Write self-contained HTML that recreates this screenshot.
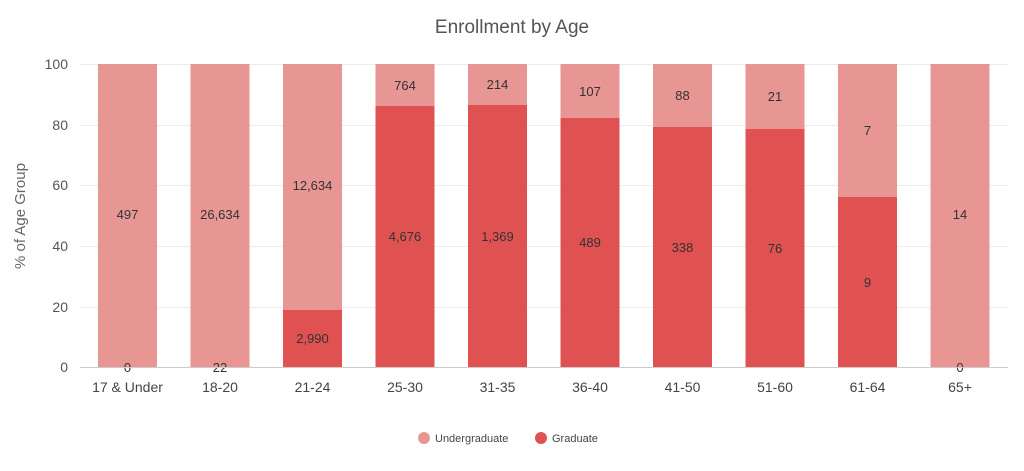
<!DOCTYPE html>
<html><head><meta charset="utf-8"><style>
body{margin:0;background:#fff}
text{font-family:"Liberation Sans",sans-serif}
</style></head><body>
<svg width="1024" height="466" xmlns="http://www.w3.org/2000/svg">
<rect width="1024" height="466" fill="#fff"/>
<text x="512" y="33" text-anchor="middle" font-size="19" fill="#555">Enrollment by Age</text>
<g stroke="#ececec" stroke-width="1">
<line x1="80" x2="1008" y1="64.5" y2="64.5"/>
<line x1="80" x2="1008" y1="125.5" y2="125.5"/>
<line x1="80" x2="1008" y1="185.5" y2="185.5"/>
<line x1="80" x2="1008" y1="246.5" y2="246.5"/>
<line x1="80" x2="1008" y1="307.5" y2="307.5"/>
</g>
<g font-size="14" fill="#555" text-anchor="end">
<text x="68" y="69">100</text><text x="68" y="130">80</text><text x="68" y="190">60</text>
<text x="68" y="251">40</text><text x="68" y="312">20</text><text x="68" y="372">0</text>
</g>
<text transform="translate(25,216) rotate(-90)" text-anchor="middle" font-size="15" fill="#666">% of Age Group</text>
<g id="bars"></g>
<g font-size="13" fill="#333" text-anchor="middle">
<!-- bars -->
<rect x="98" y="64" width="59" height="303" fill="#e79694"/>
<rect x="190.5" y="64" width="59" height="303" fill="#e79694"/>
<rect x="283" y="64" width="59" height="246" fill="#e79694"/><rect x="283" y="310" width="59" height="57" fill="#e05252"/>
<rect x="375.5" y="64" width="59" height="42" fill="#e79694"/><rect x="375.5" y="106" width="59" height="261" fill="#e05252"/>
<rect x="468" y="64" width="59" height="41" fill="#e79694"/><rect x="468" y="105" width="59" height="262" fill="#e05252"/>
<rect x="560.5" y="64" width="59" height="54" fill="#e79694"/><rect x="560.5" y="118" width="59" height="249" fill="#e05252"/>
<rect x="653" y="64" width="59" height="63" fill="#e79694"/><rect x="653" y="127" width="59" height="240" fill="#e05252"/>
<rect x="745.5" y="64" width="59" height="65" fill="#e79694"/><rect x="745.5" y="129" width="59" height="238" fill="#e05252"/>
<rect x="838" y="64" width="59" height="133" fill="#e79694"/><rect x="838" y="197" width="59" height="170" fill="#e05252"/>
<rect x="930.5" y="64" width="59" height="303" fill="#e79694"/>
<!-- labels -->
<text x="127.5" y="219">497</text><text x="127.5" y="372">0</text>
<text x="220" y="219">26,634</text><text x="220" y="372">22</text>
<text x="312.5" y="190">12,634</text><text x="312.5" y="343">2,990</text>
<text x="405" y="90">764</text><text x="405" y="241">4,676</text>
<text x="497.5" y="89">214</text><text x="497.5" y="241">1,369</text>
<text x="590" y="96">107</text><text x="590" y="247">489</text>
<text x="682.5" y="100">88</text><text x="682.5" y="252">338</text>
<text x="775" y="101">21</text><text x="775" y="253">76</text>
<text x="867.5" y="135">7</text><text x="867.5" y="287">9</text>
<text x="960" y="219">14</text><text x="960" y="372">0</text>
</g>
<line x1="80" x2="1008" y1="367.5" y2="367.5" stroke="#ccc"/>
<g font-size="14" fill="#444" text-anchor="middle">
<text x="127.5" y="392">17 &amp; Under</text><text x="220" y="392">18-20</text><text x="312.5" y="392">21-24</text>
<text x="405" y="392">25-30</text><text x="497.5" y="392">31-35</text><text x="590" y="392">36-40</text>
<text x="682.5" y="392">41-50</text><text x="775" y="392">51-60</text><text x="867.5" y="392">61-64</text>
<text x="960" y="392">65+</text>
</g>
<circle cx="424" cy="438" r="6" fill="#e79694"/>
<text x="435" y="442" font-size="11" fill="#444">Undergraduate</text>
<circle cx="541" cy="438" r="6" fill="#e05252"/>
<text x="552" y="442" font-size="11" fill="#444">Graduate</text>
</svg>
</body></html>
